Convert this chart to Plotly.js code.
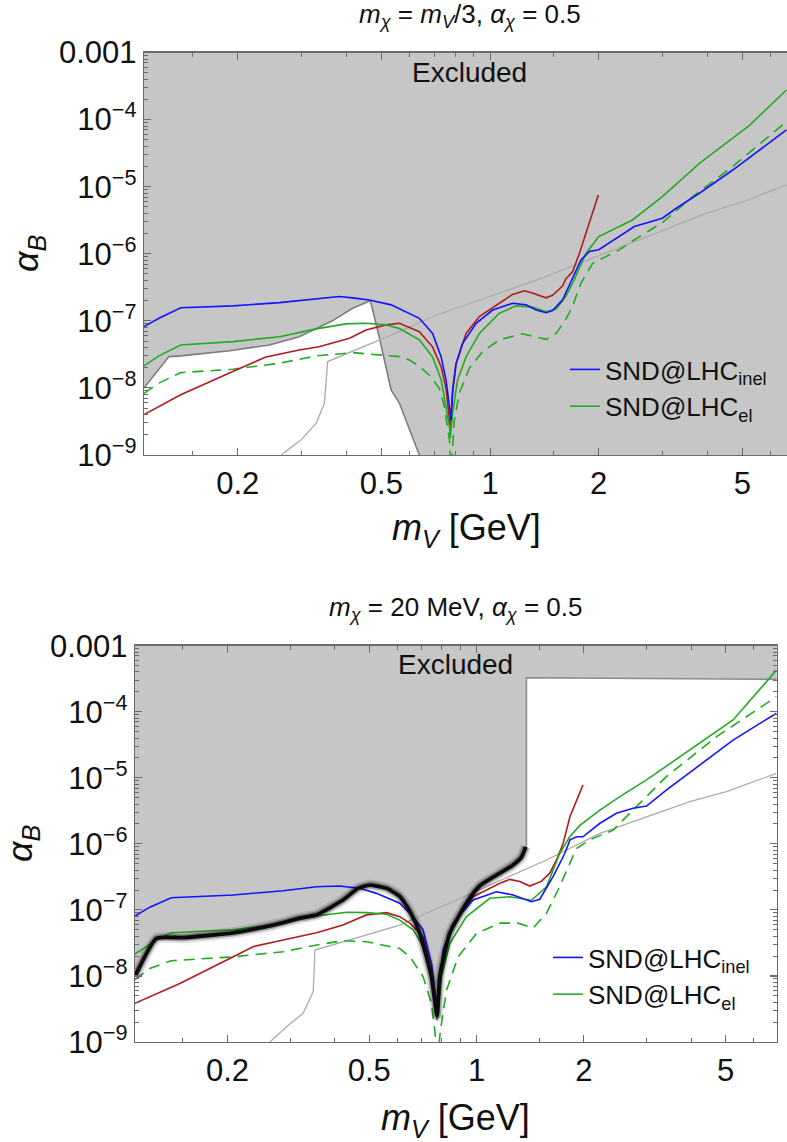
<!DOCTYPE html>
<html>
<head>
<meta charset="utf-8">
<script src="https://cdn.plot.ly/plotly-3.0.1.min.js"></script>
<style>
html,body{margin:0;padding:0;background:#fff;}
#chart{width:787px;height:1142px;}
</style>
</head>
<body>
<div id="chart"></div>
<script>
// ---------------- DATA ----------------
// Top panel: m_chi = m_V/3
const topExclM = [0.11, 0.129, 0.139, 0.19, 0.245, 0.296, 0.366, 0.416, 0.466, 0.493, 0.532, 0.561, 0.637, 0.66];
const topExclA = [1.0e-8, 2.93e-8, 3.0e-8, 3.58e-8, 4.37e-8, 5.8e-8, 1.0e-7, 1.54e-7, 2.0e-7, 5.8e-8, 9.3e-9, 5.9e-9, 1.0e-9, 6e-10];
const topExclCloseM = [7.5, 7.5, 0.11];
const topExclCloseA = [1e-10, 1e-2, 1e-2];

const topGrayM = [0.264, 0.2996, 0.33, 0.3475, 0.355, 0.561, 0.693, 1.37, 1.59, 2.19, 3.97, 5.17, 6.62];
const topGrayA = [1e-9, 1.68e-9, 2.98e-9, 5.9e-9, 2.47e-8, 6.9e-8, 1.16e-7, 4.2e-7, 5.74e-7, 1.14e-6, 4.0e-6, 6.3e-6, 1.06e-5];

const topBlueM = [0.11, 0.121, 0.139, 0.194, 0.261, 0.33, 0.382, 0.416, 0.463, 0.532, 0.561, 0.637, 0.693, 0.732, 0.755, 0.772, 0.78, 0.788, 0.805, 0.839, 0.915, 1.017, 1.155, 1.258, 1.341, 1.43, 1.49, 1.588, 1.693, 1.786, 1.884, 2.0, 2.51, 3.0, 3.28, 3.8, 4.7, 6.62];
const topBlueA = [8.2e-8, 1.09e-7, 1.57e-7, 1.67e-7, 1.87e-7, 2.12e-7, 2.3e-7, 2.2e-7, 2.05e-7, 1.73e-7, 1.5e-7, 1.09e-7, 6.5e-8, 2.9e-8, 1.32e-8, 5.3e-9, 3.3e-9, 9.8e-9, 2.3e-8, 4.6e-8, 9.2e-8, 1.45e-7, 1.83e-7, 1.73e-7, 1.45e-7, 1.32e-7, 1.42e-7, 2.05e-7, 4.2e-7, 8.1e-7, 1.08e-6, 1.15e-6, 2.54e-6, 3.38e-6, 4.77e-6, 7.97e-6, 1.77e-5, 7.0e-5];

const topGreenM = [0.11, 0.121, 0.139, 0.194, 0.261, 0.33, 0.399, 0.453, 0.515, 0.561, 0.637, 0.693, 0.732, 0.755, 0.772, 0.776, 0.788, 0.813, 0.858, 0.934, 1.061, 1.18, 1.31, 1.43, 1.523, 1.62, 1.693, 1.845, 2.0, 2.48, 3.0, 3.8, 5.23, 6.62];
const topGreenA = [2.13e-8, 3.0e-8, 4.37e-8, 4.9e-8, 5.8e-8, 7.58e-8, 9.0e-8, 9.2e-8, 8.7e-8, 7.7e-8, 5.2e-8, 2.9e-8, 1.32e-8, 5.3e-9, 2.65e-9, 1.8e-9, 4.4e-9, 1.32e-8, 2.9e-8, 6.5e-8, 1.3e-7, 1.67e-7, 1.6e-7, 1.37e-7, 1.5e-7, 2.3e-7, 3.65e-7, 1.02e-6, 1.8e-6, 3.19e-6, 7.1e-6, 2.23e-5, 8.2e-5, 2.76e-4];

const topDashM = [0.11, 0.121, 0.139, 0.194, 0.261, 0.33, 0.416, 0.473, 0.561, 0.598, 0.637, 0.686, 0.724, 0.747, 0.763, 0.772, 0.779, 0.785, 0.796, 0.822, 0.876, 0.954, 1.061, 1.23, 1.43, 1.523, 1.62, 1.693, 1.786, 1.924, 2.28, 2.48, 3.0, 3.64, 4.7, 6.62];
const topDashA = [8.3e-9, 1.18e-8, 1.69e-8, 1.9e-8, 2.33e-8, 3.0e-8, 3.36e-8, 3.2e-8, 2.93e-8, 2.6e-8, 2.1e-8, 1.47e-8, 9.8e-9, 5.3e-9, 2.65e-9, 1.65e-9, 5e-10, 1.07e-9, 3.3e-9, 8.3e-9, 1.96e-8, 3.5e-8, 5.2e-8, 6.4e-8, 5.3e-8, 6.5e-8, 1.04e-7, 1.66e-7, 3.65e-7, 7.2e-7, 1.14e-6, 1.55e-6, 2.9e-6, 7.1e-6, 2.0e-5, 9.3e-5];

const topRedM = [0.11, 0.139, 0.198, 0.2395, 0.296, 0.336, 0.408, 0.453, 0.515, 0.561, 0.637, 0.693, 0.732, 0.755, 0.772, 0.776, 0.785, 0.805, 0.858, 0.934, 1.061, 1.155, 1.245, 1.31, 1.43, 1.49, 1.588, 1.62, 1.693, 1.768, 1.995];
const topRedA = [4.0e-9, 7.9e-9, 1.85e-8, 2.9e-8, 3.68e-8, 4.1e-8, 5.5e-8, 7.3e-8, 8.7e-8, 9.2e-8, 6.9e-8, 4.1e-8, 2.07e-8, 9.8e-9, 3.3e-9, 2.65e-9, 7.2e-9, 2.3e-8, 6.5e-8, 1.16e-7, 1.83e-7, 2.48e-7, 2.8e-7, 2.6e-7, 2.2e-7, 2.4e-7, 3.3e-7, 4.2e-7, 5.4e-7, 1.02e-6, 7.5e-6];

// Bottom panel: m_chi = 20 MeV
const botExclM = [0.11, 0.1264, 0.15, 0.2075, 0.2686, 0.319, 0.3556, 0.422, 0.465, 0.5017, 0.559, 0.609, 0.65, 0.693, 0.747, 0.772, 0.776, 0.789, 0.841, 0.937, 1.02, 1.163, 1.267, 1.337, 1.375];
const botExclA = [9.8e-9, 3.7e-8, 3.8e-8, 4.5e-8, 5.9e-8, 7.5e-8, 8.4e-8, 1.41e-7, 2.12e-7, 2.38e-7, 2.12e-7, 1.6e-7, 9.5e-8, 4.4e-8, 9.8e-9, 2.7e-9, 2.5e-9, 9.8e-9, 4.4e-8, 1.26e-7, 2.3e-7, 3.6e-7, 4.8e-7, 6.3e-7, 9e-7];
const botBoxM = [1.381, 1.381, 7.2];
const botBoxA = [9e-7, 3.28e-4, 3.1e-4];
const botExclCloseM = [7.2, 0.11];
const botExclCloseA = [1e-2, 1e-2];

const botGrayM = [0.263, 0.2929, 0.326, 0.348, 0.352, 0.609, 1.572, 2.22, 3.97, 5.03, 6.95];
const botGrayA = [1e-9, 1.7e-9, 2.72e-9, 5.8e-9, 2.47e-8, 5.9e-8, 5.7e-7, 1.44e-6, 4.35e-6, 6.17e-6, 1.17e-5];

const botBlueM = [0.11, 0.121, 0.139, 0.2075, 0.2866, 0.3556, 0.413, 0.47, 0.524, 0.609, 0.664, 0.708, 0.747, 0.777, 0.806, 0.86, 0.978, 1.138, 1.267, 1.426, 1.505, 1.64, 1.77, 1.83, 1.91, 1.99, 2.22, 2.47, 2.75, 3.0, 3.41, 4.23, 5.25, 6.95];
const botBlueA = [8.1e-8, 1.1e-7, 1.53e-7, 1.68e-7, 1.95e-7, 2.24e-7, 2.3e-7, 2.12e-7, 1.78e-7, 1.26e-7, 7.9e-8, 4.97e-8, 1.55e-8, 3.05e-9, 2.47e-8, 6.3e-8, 1.41e-7, 1.88e-7, 1.68e-7, 1.33e-7, 1.45e-7, 3.18e-7, 7.2e-7, 1.15e-6, 1.28e-6, 1.28e-6, 2.05e-6, 2.9e-6, 3.45e-6, 3.74e-6, 6.5e-6, 1.56e-5, 3.73e-5, 9.5e-5];

const botGreenM = [0.11, 0.1264, 0.139, 0.2075, 0.2866, 0.3556, 0.432, 0.491, 0.559, 0.609, 0.664, 0.708, 0.747, 0.775, 0.798, 0.841, 0.937, 1.09, 1.24, 1.426, 1.572, 1.713, 1.827, 1.95, 2.22, 2.525, 3.0, 4.23, 5.25, 6.95];
const botGreenA = [2.15e-8, 3.5e-8, 4.5e-8, 5.0e-8, 6.3e-8, 8.1e-8, 9.2e-8, 9.1e-8, 8.6e-8, 7.0e-8, 5.0e-8, 2.8e-8, 9.8e-9, 2.15e-9, 9.8e-9, 3.1e-8, 7.9e-8, 1.5e-7, 1.58e-7, 1.4e-7, 2.24e-7, 7.2e-7, 1.28e-6, 1.9e-6, 3.25e-6, 5.2e-6, 9.3e-6, 3.33e-5, 7.5e-5, 4.28e-4];

const botDashM = [0.11, 0.121, 0.139, 0.2075, 0.2866, 0.3556, 0.422, 0.491, 0.609, 0.65, 0.708, 0.747, 0.764, 0.776, 0.792, 0.824, 0.888, 1.0, 1.163, 1.308, 1.442, 1.572, 1.694, 1.789, 1.907, 2.08, 2.42, 2.75, 3.41, 4.72, 6.95];
const botDashA = [8.7e-9, 1.3e-8, 1.7e-8, 1.95e-8, 2.33e-8, 2.94e-8, 3.42e-8, 3.3e-8, 2.6e-8, 1.95e-8, 9.8e-9, 3.85e-9, 1.5e-9, 5e-10, 1.5e-9, 6.1e-9, 1.95e-8, 4.4e-8, 6.3e-8, 6.3e-8, 5.3e-8, 8.9e-8, 2.0e-7, 3.8e-7, 8.5e-7, 1.15e-6, 1.62e-6, 3.25e-6, 1.04e-5, 4.19e-5, 1.69e-4];

const botRedM = [0.11, 0.147, 0.2075, 0.2367, 0.2866, 0.3556, 0.422, 0.491, 0.559, 0.609, 0.65, 0.708, 0.747, 0.775, 0.798, 0.851, 0.978, 1.163, 1.24, 1.323, 1.41, 1.52, 1.606, 1.677, 1.75, 1.83, 1.99];
const botRedA = [3.85e-9, 7.7e-9, 1.95e-8, 2.8e-8, 3.5e-8, 4.5e-8, 5.9e-8, 8.4e-8, 9.1e-8, 7.9e-8, 6.3e-8, 3.9e-8, 1.55e-8, 2.7e-9, 1.55e-8, 5.6e-8, 1.58e-7, 2.53e-7, 2.9e-7, 2.7e-7, 2.3e-7, 2.7e-7, 3.6e-7, 5.7e-7, 1.01e-6, 2.6e-6, 7.8e-6];

// Ticks
const xTickVals = [0.2, 0.5, 1, 2, 5];
const xTickText = ['0.2', '0.5', '1', '2', '5'];
const xMinorVals = [0.15, 0.3, 0.4, 0.6, 0.7, 0.8, 0.9, 1.5, 3, 4, 6, 7];
const yTickVals = [1e-9, 1e-8, 1e-7, 1e-6, 1e-5, 1e-4, 1e-3];
const yTickText = ['10<sup>−9</sup>', '10<sup>−8</sup>', '10<sup>−7</sup>', '10<sup>−6</sup>', '10<sup>−5</sup>', '10<sup>−4</sup>', '0.001'];
const xRangeTop = [0.11, 6.645];
const xRangeBot = [0.11, 6.96];
const yRange = [1e-9, 1e-3];

// ---------------- STYLE ----------------
const FONT = 'Liberation Sans, Arial, Helvetica, sans-serif';
const W = 787, H = 1142;
const C_BLUE = '#1414ff', C_GREEN = '#22aa22', C_RED = '#b01c1c', C_FILL = '#c6c6c6';
const yMinor = [];
for (let e = -9; e < -3; e++) for (let k = 2; k <= 9; k++) yMinor.push(k * Math.pow(10, e));

function px2fx(px) { return px / W; }
function px2fy(py) { return 1 - py / H; }
const lg = Math.log10;

function L(x, y, xa, ya, color, width, dash, extra) {
  return Object.assign({
    x: x, y: y, xaxis: xa, yaxis: ya, type: 'scatter', mode: 'lines',
    line: {color: color, width: width, dash: dash || 'solid'},
    hoverinfo: 'skip', showlegend: false
  }, extra || {});
}
const SM = {line: null};
function S(tr) { tr.line.shape = 'spline'; tr.line.smoothing = 0.5; return tr; }

const traces = [
  // ---- top ----
  L(topExclM.concat(topExclCloseM), topExclA.concat(topExclCloseA), 'x', 'y', 'rgba(0,0,0,0)', 0, null,
    {fill: 'toself', fillcolor: C_FILL}),
  L(topExclM, topExclA, 'x', 'y', '#7d7d7d', 1.6),
  L(topGrayM, topGrayA, 'x', 'y', '#ababab', 1.3),
  L(topDashM, topDashA, 'x', 'y', C_GREEN, 1.6, '11px,7px'),
  L(topRedM, topRedA, 'x', 'y', C_RED, 1.6),
  L(topGreenM, topGreenA, 'x', 'y', C_GREEN, 1.6, null,
    {showlegend: true, name: 'SND@LHC<sub>el</sub>', legend: 'legend', legendrank: 2}),
  L(topBlueM, topBlueA, 'x', 'y', C_BLUE, 1.6, null,
    {showlegend: true, name: 'SND@LHC<sub>inel</sub>', legend: 'legend', legendrank: 1}),
  // ---- bottom ----
  L(botExclM.concat(botBoxM, botExclCloseM), botExclA.concat(botBoxA, botExclCloseA), 'x2', 'y2', 'rgba(0,0,0,0)', 0, null,
    {fill: 'toself', fillcolor: C_FILL}),
  L(botBoxM, botBoxA, 'x2', 'y2', '#8a8a8a', 1.5),
  L(botGrayM, botGrayA, 'x2', 'y2', '#ababab', 1.3),
  L(botDashM, botDashA, 'x2', 'y2', C_GREEN, 1.6, '11px,7px'),
  L(botRedM, botRedA, 'x2', 'y2', C_RED, 1.6),
  L(botGreenM, botGreenA, 'x2', 'y2', C_GREEN, 1.6, null,
    {showlegend: true, name: 'SND@LHC<sub>el</sub>', legend: 'legend2', legendrank: 2}),
  L(botBlueM, botBlueA, 'x2', 'y2', C_BLUE, 1.6, null,
    {showlegend: true, name: 'SND@LHC<sub>inel</sub>', legend: 'legend2', legendrank: 1}),
  S(L(botExclM, botExclA, 'x2', 'y2', 'rgba(0,0,0,0.12)', 11)),
  S(L(botExclM, botExclA, 'x2', 'y2', 'rgba(0,0,0,0.3)', 7)),
  S(L(botExclM, botExclA, 'x2', 'y2', '#0a0a0a', 3.8))
];

function xAxis(range, domain, anchor) {
  return {
    type: 'log', range: [lg(range[0]), lg(range[1])], domain: domain, anchor: anchor,
    showline: true, linecolor: '#6a6a6a', linewidth: 1.3, mirror: 'ticks',
    ticks: 'inside', ticklen: 7, tickwidth: 1.1, tickcolor: '#6a6a6a',
    tickmode: 'array', tickvals: xTickVals, ticktext: xTickText,
    tickfont: {family: FONT, size: 31, color: '#111'},
    minor: {tickmode: 'array', tickvals: xMinorVals, ticks: 'inside', ticklen: 4, tickwidth: 1, tickcolor: '#6a6a6a', showgrid: false},
    showgrid: false, zeroline: false, fixedrange: true
  };
}
function yAxis(domain, anchor, mirror) {
  return {
    type: 'log', range: [lg(yRange[0]), lg(yRange[1])], domain: domain, anchor: anchor,
    showline: true, linecolor: '#6a6a6a', linewidth: 1.3, mirror: mirror,
    ticks: 'inside', ticklen: 7, tickwidth: 1.1, tickcolor: '#6a6a6a',
    tickmode: 'array', tickvals: yTickVals, ticktext: yTickText,
    tickfont: {family: FONT, size: 31, color: '#111'},
    minor: {tickmode: 'array', tickvals: yMinor, ticks: 'inside', ticklen: 4, tickwidth: 1, tickcolor: '#6a6a6a', showgrid: false},
    showgrid: false, zeroline: false, fixedrange: true
  };
}

function ann(text, xpx, ypx, size, extra) {
  return Object.assign({
    text: text, xref: 'paper', yref: 'paper', x: px2fx(xpx), y: px2fy(ypx),
    xanchor: 'center', yanchor: 'middle', showarrow: false,
    font: {family: FONT, size: size, color: '#111'}
  }, extra || {});
}

const layout = {
  width: W, height: H,
  margin: {l: 0, r: 0, t: 0, b: 0},
  paper_bgcolor: '#ffffff', plot_bgcolor: '#ffffff',
  font: {family: FONT, color: '#111'},
  xaxis: xAxis(xRangeTop, [px2fx(144), 1], 'y'),
  yaxis: yAxis([px2fy(455), px2fy(52.5)], 'x', false),
  xaxis2: xAxis(xRangeBot, [px2fx(135), px2fx(776.7)], 'y2'),
  yaxis2: yAxis([px2fy(1042), px2fy(645.7)], 'x2', 'ticks'),
  legend: {x: px2fx(565), y: px2fy(388), xanchor: 'left', yanchor: 'middle',
    bgcolor: 'rgba(0,0,0,0)', borderwidth: 0, traceorder: 'normal',
    font: {family: FONT, size: 26, color: '#111'}},
  legend2: {x: px2fx(548), y: px2fy(976), xanchor: 'left', yanchor: 'middle',
    bgcolor: 'rgba(0,0,0,0)', borderwidth: 0, traceorder: 'normal',
    font: {family: FONT, size: 26, color: '#111'}},
  annotations: [
    ann('<i>m</i><sub><i>χ</i></sub> = <i>m</i><sub><i>V</i></sub>/3, <i>α</i><sub><i>χ</i></sub> = 0.5', 469.5, 15, 26),
    ann('Excluded', 469.5, 73, 28),
    ann('<i>m</i><sub><i>V</i></sub> [GeV]', 467, 530, 36),
    ann('<i>α</i><sub><i>B</i></sub>', 28, 254, 36, {textangle: -90}),
    ann('<i>m</i><sub><i>χ</i></sub> = 20 MeV, <i>α</i><sub><i>χ</i></sub> = 0.5', 455.8, 608, 26),
    ann('Excluded', 455.8, 664, 28),
    ann('<i>m</i><sub><i>V</i></sub> [GeV]', 455.8, 1120, 36),
    ann('<i>α</i><sub><i>B</i></sub>', 22, 844, 36, {textangle: -90})
  ]
};

Plotly.newPlot('chart', traces, layout, {staticPlot: true, displayModeBar: false});
</script>
</body>
</html>
